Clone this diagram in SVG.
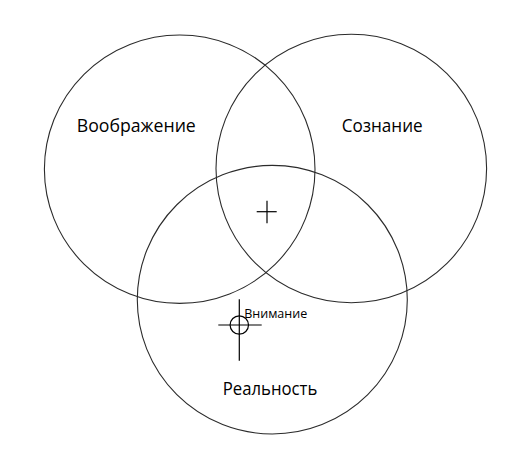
<svg xmlns="http://www.w3.org/2000/svg" width="531" height="460" viewBox="0 0 531 460">
<style>
.c{fill:none;stroke:#2b2b2b;stroke-width:1.1}
.m{fill:none;stroke:#000;stroke-width:1.2}
.t{font-family:"Open Sans","Liberation Sans",Arial,sans-serif;fill:#000;text-anchor:middle}
</style>
<rect width="531" height="460" fill="#fff"/>
<g id="imagination">
<ellipse class="c" cx="179.7" cy="169.2" rx="135.3" ry="134.2"/>
<text class="t" x="136.3" y="131.7" font-size="18.5" textLength="119" lengthAdjust="spacingAndGlyphs">Воображение</text>
</g>
<g id="consciousness">
<ellipse class="c" cx="351.3" cy="168.5" rx="135.3" ry="134.2"/>
<text class="t" x="382.2" y="131.7" font-size="18.5" textLength="81" lengthAdjust="spacingAndGlyphs">Сознание</text>
</g>
<g id="reality">
<ellipse class="c" cx="272.3" cy="299.7" rx="135" ry="134.3"/>
<text class="t" x="270" y="395" font-size="17.5" textLength="94.6" lengthAdjust="spacingAndGlyphs">Реальность</text>
</g>
<g id="center-mark">
<line class="m" x1="256.7" y1="211.7" x2="276.7" y2="211.7"/>
<line class="m" x1="267" y1="200.7" x2="267" y2="223.3"/>
</g>
<g id="attention">
<line class="m" x1="218.3" y1="325" x2="261.7" y2="325"/>
<line class="m" x1="239.3" y1="299.3" x2="239.3" y2="360.7"/>
<circle class="m" cx="239.3" cy="325" r="9.2"/>
<text class="t" x="275.7" y="318.3" font-size="12" textLength="63" lengthAdjust="spacingAndGlyphs">Внимание</text>
</g>
<g id="connectors"/>
</svg>
